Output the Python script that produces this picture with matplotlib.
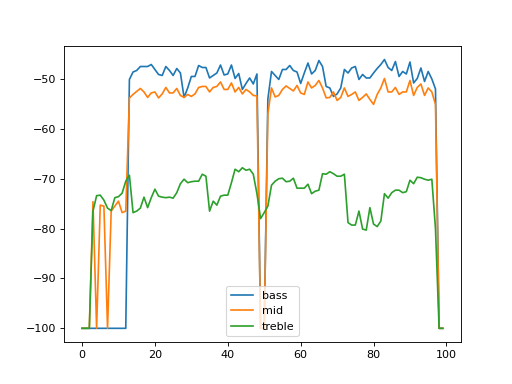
import matplotlib
matplotlib.use("Agg")
import matplotlib.pyplot as plt

# band levels (dB) per frame
bass = [
    -100, -100, -100, -100, -100, -100, -100, -100, -100, -100,
    -100, -100, -100, -50.1, -48.6, -48.3, -47.5, -47.5, -47.5, -47.1,
    -48.1, -49.1, -49.3, -47.5, -48.3, -49.3, -47.9, -48.8, -53.7, -51.8,
    -49.5, -49.5, -47.3, -47.7, -47.7, -49.8, -49.3, -48.8, -47.2, -49.2,
    -49.0, -47.2, -49.9, -48.9, -52.1, -50.9, -49.8, -51.0, -49.0, -100,
    -100, -54.0, -48.5, -49.3, -50.1, -48.1, -48.1, -47.3, -48.3, -48.6,
    -50.9, -48.8, -46.8, -49.0, -48.3, -46.3, -47.5, -51.5, -51.8, -53.5,
    -53.0, -51.8, -48.1, -48.8, -47.8, -47.5, -50.1, -49.1, -49.8, -49.8,
    -48.8, -47.9, -47.1, -46.1, -47.7, -48.3, -46.5, -49.5, -48.5, -49.0,
    -46.6, -50.8, -49.9, -47.8, -50.5, -48.5, -50.0, -52.0, -100, -100,
]

mid = [
    -100, -100, -100, -74.6, -100, -75.3, -75.5, -100, -76.5, -75.5,
    -74.5, -76.8, -76.5, -53.8, -53.1, -52.5, -51.9, -52.6, -53.7, -52.8,
    -52.6, -53.8, -53.0, -51.7, -52.8, -52.8, -51.9, -53.3, -53.7, -53.1,
    -53.5, -53.0, -51.7, -51.5, -51.5, -52.6, -51.7, -51.5, -50.6, -52.1,
    -52.1, -50.8, -52.6, -51.7, -53.0, -52.1, -52.6, -53.3, -53.4, -100,
    -100, -57.0, -51.8, -53.6, -53.3, -52.1, -51.4, -51.9, -52.4, -51.3,
    -52.8, -53.1, -50.6, -51.8, -51.3, -50.3, -51.8, -53.8, -53.7, -52.6,
    -54.3, -53.7, -51.8, -53.5, -53.1, -52.6, -54.3, -53.7, -53.0, -54.1,
    -55.1, -53.1, -51.8, -49.9, -52.6, -52.6, -51.7, -53.1, -52.6, -52.6,
    -50.3, -53.3, -51.7, -51.0, -53.3, -51.8, -52.6, -55.1, -100, -100,
]

treble = [
    -100, -100, -100, -76.5, -73.4, -73.3, -74.3, -75.9, -76.4, -73.8,
    -73.6, -72.9, -70.5, -69.3, -76.8, -76.5, -75.9, -73.7, -75.8, -73.8,
    -72.1, -73.5, -73.7, -73.8, -73.7, -73.9, -72.8, -71.0, -70.1, -70.8,
    -70.6, -70.5, -70.5, -69.1, -69.5, -76.5, -74.5, -75.3, -73.5, -73.3,
    -73.3, -70.8, -68.1, -68.6, -67.8, -68.3, -68.1, -69.1, -73.0, -78.0,
    -76.8, -75.5, -71.3, -70.5, -70.0, -69.9, -70.6, -70.5, -69.9, -71.9,
    -71.9, -71.9, -71.1, -73.0, -72.5, -72.3, -69.0, -69.1, -68.6, -69.0,
    -69.5, -69.5, -69.1, -78.8, -79.3, -79.3, -76.5, -80.1, -80.3, -75.8,
    -79.1, -79.6, -78.5, -73.0, -73.9, -72.8, -72.3, -72.3, -72.8, -72.6,
    -70.3, -71.0, -69.7, -69.8, -70.1, -70.3, -70.1, -80.0, -100, -100,
]

plt.figure(figsize=(6.4, 4.8), dpi=80)
plt.plot(bass, label="bass")
plt.plot(mid, label="mid")
plt.plot(treble, label="treble")
plt.legend(loc="lower center")
plt.savefig("out.png", dpi=80)
plt.close()
